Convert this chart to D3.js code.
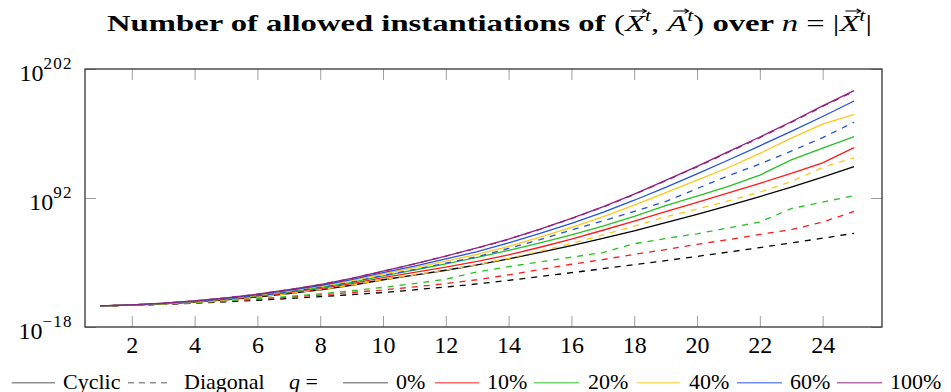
<!DOCTYPE html>
<html>
<head>
<meta charset="utf-8">
<script src="https://cdn.jsdelivr.net/npm/d3@7/dist/d3.min.js"></script>
<style>
  body { margin: 0; background: #fff; }
</style>
</head>
<body>
<svg id="chart" width="951" height="392"></svg>
<script>
// n = |X^t|
const nValues = [1, 2, 3, 4, 5, 6, 7, 8, 9, 10, 11, 12, 13, 14, 15, 16, 17, 18, 19, 20, 21, 22, 23, 24, 25];
const xTickValues = [2, 4, 6, 8, 10, 12, 14, 16, 18, 20, 22, 24];
const yTickExponents = [-18, 92, 202];

// log10 of the number of allowed instantiations
const cyclicQ0   = [0, 0.68, 1.7, 3.2, 5.1, 7.5, 10.4, 13.7, 17.6, 22.3, 26.2, 30.4, 35, 40.1, 45.6, 51.3, 57.5, 64, 71, 78, 85.4, 93.2, 101.3, 109.8, 118.7];
const cyclicQ10  = [0, 0.73, 1.9, 3.5, 5.5, 8.1, 11.2, 14.8, 19, 24.1, 28.6, 33.1, 37.9, 43.5, 50, 57, 64.5, 72.3, 80.3, 88.3, 96.3, 104.5, 113, 122, 134.9];
const cyclicQ20  = [0, 0.77, 2, 3.7, 5.85, 8.6, 11.9, 15.7, 20.1, 25.5, 30.6, 35.9, 41.4, 47.3, 53.7, 60.5, 68, 76.3, 85.5, 93.5, 102, 111.5, 124.5, 134.5, 144.3];
const cyclicQ40  = [0, 0.83, 2.1, 3.95, 6.25, 9.2, 12.7, 16.7, 21.5, 27.2, 32.6, 38.2, 44, 50.8, 58.6, 67, 76, 86, 96.6, 107.3, 118, 130, 143, 155, 163.4];
const cyclicQ60  = [0, 0.86, 2.2, 4.1, 6.5, 9.6, 13.2, 17.4, 22.4, 28.3, 34, 40, 46.2, 53.8, 61.8, 70.4, 79.8, 90.1, 101.1, 112.6, 124.4, 136.5, 148.8, 161.5, 174.7];
const cyclicQ100 = [0, 0.9, 2.3, 4.3, 6.8, 10, 13.8, 18.2, 23.4, 29.6, 35.9, 42.5, 49.5, 57, 65.5, 74.7, 84.5, 95.3, 107, 119, 131.5, 144, 157, 170.5, 183.5];

const diagonalQ0   = [0, 0.5, 1.3, 2.3, 3.5, 4.8, 6.3, 7.9, 9.6, 11.4, 13.7, 16.1, 18.7, 21.8, 25, 28.3, 31.7, 35.1, 38.6, 42.2, 45.9, 49.7, 53.7, 57.7, 61.9];
const diagonalQ10  = [0, 0.55, 1.4, 2.6, 4, 5.6, 7.4, 9.3, 11.4, 13.6, 16.2, 19, 22.3, 26.5, 31, 35.5, 39.5, 44, 48, 52.5, 56.5, 61, 65, 71.5, 80.5];
const diagonalQ20  = [0, 0.6, 1.5, 2.8, 4.3, 6.1, 8, 10.3, 12.9, 15.8, 19, 22.8, 29, 33.5, 37.5, 41.5, 45.5, 53, 57.5, 61.5, 66.5, 71.5, 83, 88.5, 94];
const diagonalQ40  = [0, 0.68, 1.75, 3.25, 5.2, 7.6, 10.5, 13.9, 17.8, 22.4, 26.4, 30.6, 35.1, 40.6, 46.6, 53.2, 60.5, 68, 76, 82.5, 89.5, 97, 106, 118, 126.4];
const diagonalQ60  = [0, 0.77, 2, 3.7, 5.85, 8.6, 11.9, 15.7, 20.2, 25.8, 31, 36.4, 42, 49, 56.5, 64.7, 72.5, 80.5, 89, 100, 111, 121, 132, 143.5, 156.6];
const diagonalQ100 = [0, 0.9, 2.3, 4.3, 6.8, 10, 13.8, 18.2, 23.4, 29.5, 35.8, 42.4, 49.3, 56.8, 65.3, 74.5, 84.2, 95, 106.7, 118.6, 131, 143.5, 156.5, 170, 183];

const qLabels = ['0%', '10%', '20%', '40%', '60%', '100%'];
const qColors = ['#000000', '#ff1a1a', '#22c322', '#ffc61a', '#2352e0', '#93207f'];
const cyclicSeries = [cyclicQ0, cyclicQ10, cyclicQ20, cyclicQ40, cyclicQ60, cyclicQ100];
const diagonalSeries = [diagonalQ0, diagonalQ10, diagonalQ20, diagonalQ40, diagonalQ60, diagonalQ100];

const serif = "'Liberation Serif', 'DejaVu Serif', serif";
const width = 951, height = 392;
const margin = { top: 69, right: 69, bottom: 65, left: 85 };
const plotW = width - margin.left - margin.right;
const plotH = height - margin.top - margin.bottom;

const svg = d3.select('#chart');

const x = d3.scaleLinear().domain([0.51, 25.89]).range([0, plotW]);
const y = d3.scaleLog().domain([1e-18, 1e202]).range([plotH, 0]);

// text made of pieces: bold / italic / superscript / vector arrow
function richText(parent, parts, size, supSize, supRaise, supSpacing) {
    const g = parent.append('g');
    let cx = 0;
    parts.forEach(p => {
        const fs = p.sup ? supSize : size;
        const el = g.append('text')
            .attr('x', cx)
            .attr('y', p.sup ? -supRaise : 0)
            .attr('xml:space', 'preserve')
            .style('white-space', 'pre')
            .style('font-family', serif)
            .style('font-size', `${fs}px`)
            .style('font-weight', p.bold ? 'bold' : 'normal')
            .style('font-style', p.italic ? 'italic' : 'normal')
            .style('letter-spacing', p.sup ? `${supSpacing}px` : null)
            .style('fill', '#000')
            .text(p.t);
        const w = el.node().getComputedTextLength();
        if (p.vec) {
            const ay = -size * 0.83;
            const x1 = cx + w * 0.3, x2 = cx + w + 1;
            g.append('path')
                .attr('d', `M${x1},${ay}L${x2},${ay}M${x2 - 3},${ay - 2.2}L${x2},${ay}L${x2 - 3},${ay + 2.2}`)
                .style('fill', 'none')
                .style('stroke', '#000')
                .style('stroke-width', 1);
        }
        cx += w;
    });
    return { g, width: cx };
}

// title, stretched a little to the width of the wide TeX bold face
const titleParts = [
    { t: 'Number of allowed instantiations of ', bold: true },
    { t: '(' }, { t: 'X', italic: true, vec: true }, { t: 't', italic: true, sup: true },
    { t: ', ' }, { t: 'A', italic: true, vec: true }, { t: 't', italic: true, sup: true }, { t: ')' },
    { t: ' over ', bold: true },
    { t: 'n', italic: true }, { t: ' = ' }, { t: '|' },
    { t: 'X', italic: true, vec: true }, { t: 't', italic: true, sup: true }, { t: '|' }
];
const title = richText(svg, titleParts, 24, 16, 10, 0);
const titleStretch = 765 / title.width;
title.g.attr('transform', `translate(107,31) scale(${titleStretch},1)`);

const plot = svg.append('g')
    .attr('transform', `translate(${margin.left},${margin.top})`);

// ticks inside the frame
const tickColor = '#a0a0a0';
const xAxisBottom = plot.append('g')
    .attr('transform', `translate(0,${plotH})`)
    .call(d3.axisBottom(x).tickValues(xTickValues).tickSizeInner(-11).tickSizeOuter(0).tickPadding(9));
xAxisBottom.select('.domain').remove();
xAxisBottom.selectAll('line').style('stroke', tickColor);
xAxisBottom.selectAll('text')
    .style('font-family', serif)
    .style('font-size', '24px')
    .style('fill', '#000');

const xAxisTop = plot.append('g')
    .call(d3.axisTop(x).tickValues(xTickValues).tickSizeInner(-11).tickSizeOuter(0).tickFormat(''));
xAxisTop.select('.domain').remove();
xAxisTop.selectAll('line').style('stroke', tickColor);

const yTickValues = yTickExponents.map(e => Math.pow(10, e));
const yAxisLeft = plot.append('g')
    .call(d3.axisLeft(y).tickValues(yTickValues).tickSizeInner(-11).tickSizeOuter(0).tickFormat(''));
yAxisLeft.select('.domain').remove();
yAxisLeft.selectAll('line').style('stroke', tickColor);

const yAxisRight = plot.append('g')
    .attr('transform', `translate(${plotW},0)`)
    .call(d3.axisRight(y).tickValues(yTickValues).tickSizeInner(-11).tickSizeOuter(0).tickFormat(''));
yAxisRight.select('.domain').remove();
yAxisRight.selectAll('line').style('stroke', tickColor);

// y labels 10^e
yTickExponents.forEach(e => {
    const lab = richText(plot, [{ t: '10' }, { t: e < 0 ? `\u2212${-e}` : `${e}`, sup: true }], 24, 17, 12, 1.2);
    lab.g.attr('transform', `translate(${-12.3 - lab.width},${y(Math.pow(10, e)) + 11.8})`);
});

// series
const line = d3.line()
    .x((d, i) => x(nValues[i]))
    .y(d => y(Math.pow(10, d)));

const seriesGroup = plot.append('g');
cyclicSeries.forEach((s, i) => {
    seriesGroup.append('path')
        .datum(s)
        .attr('d', line)
        .style('fill', 'none')
        .style('stroke', qColors[i])
        .style('stroke-width', 1.3);
});
diagonalSeries.forEach((s, i) => {
    seriesGroup.append('path')
        .datum(s)
        .attr('d', line)
        .style('fill', 'none')
        .style('stroke', qColors[i])
        .style('stroke-width', 1.3)
        .style('stroke-dasharray', '6,6');
});

// frame
plot.append('rect')
    .attr('width', plotW)
    .attr('height', plotH)
    .style('fill', 'none')
    .style('stroke', '#333')
    .style('stroke-width', 1.3);

// legend
const legend = svg.append('g');
const legendY = 382.7;
const legendLines = [
    { x1: 11.7, x2: 55, color: '#555', dash: null },
    { x1: 128, x2: 170, color: '#555', dash: '6,5' },
    { x1: 343, x2: 388, color: '#555', dash: null },
    { x1: 435, x2: 479, color: qColors[1], dash: null },
    { x1: 534, x2: 579, color: qColors[2], dash: null },
    { x1: 637, x2: 680, color: qColors[3], dash: null },
    { x1: 737, x2: 782, color: qColors[4], dash: null },
    { x1: 837, x2: 882, color: qColors[5], dash: null }
];
legendLines.forEach(l => {
    legend.append('line')
        .attr('x1', l.x1).attr('x2', l.x2)
        .attr('y1', legendY).attr('y2', legendY)
        .style('stroke', l.color)
        .style('stroke-opacity', 0.65)
        .style('stroke-width', 1.4)
        .style('stroke-dasharray', l.dash);
});

const legendTexts = [
    { x: 63, parts: [{ t: 'Cyclic' }] },
    { x: 184, parts: [{ t: 'Diagonal' }] },
    { x: 289, parts: [{ t: 'q', italic: true }, { t: ' =' }] },
    { x: 396, parts: [{ t: qLabels[0] }] },
    { x: 487, parts: [{ t: qLabels[1] }] },
    { x: 588, parts: [{ t: qLabels[2] }] },
    { x: 689, parts: [{ t: qLabels[3] }] },
    { x: 790, parts: [{ t: qLabels[4] }] },
    { x: 890, parts: [{ t: qLabels[5] }] }
];
legendTexts.forEach(lt => {
    const item = richText(legend, lt.parts, 22, 15, 9, 0);
    item.g.attr('transform', `translate(${lt.x},${legendY + 5.8})`);
});
</script>
</body>
</html>
